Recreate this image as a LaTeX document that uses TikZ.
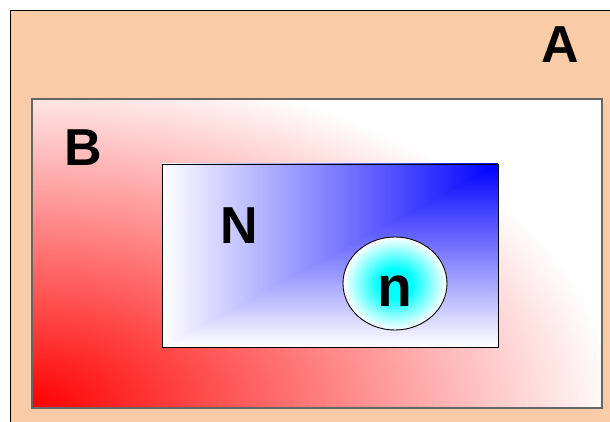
\documentclass[tikz,border=0pt]{standalone}
\usepackage{fontspec}
\setmainfont{Liberation Sans}
\definecolor{peach}{RGB}{249,204,167}
\pgfdeclareradialshading{bshade}{\pgfpoint{0bp}{0bp}}{color(0bp)=(red); color(25bp)=(white); color(50bp)=(white)}
\pgfdeclareradialshading{nshade}{\pgfpoint{0bp}{0bp}}{color(0bp)=(cyan); color(8bp)=(cyan); color(25bp)=(white); color(50bp)=(white)}
\tikzset{
  lbl/.style={anchor=base, inner sep=0pt, font=\bfseries\fontsize{52}{52}\selectfont},
  lbls/.style={anchor=base, inner sep=0pt, font=\bfseries\fontsize{57}{57}\selectfont}
}
\begin{document}
\begin{tikzpicture}[x=1pt,y=-1pt]
\useasboundingbox (0,0) rectangle (610,422);
\clip (0,0) rectangle (610,422);
% A
\draw[fill=peach, draw=black, line width=1pt] (10.5,10.5) rectangle (640,450);
% B
\fill[white] (32,99) rectangle (602,408);
\begin{scope}
  \clip (32,99) rectangle (602,408);
  \shade[shading=bshade] (32,408) ellipse [x radius=585, y radius=345];
\end{scope}
\draw[draw=black!60, line width=1.3pt] (32,99) rectangle (602,408);
% N
\shade[left color=white, right color=blue] (162,164) rectangle (498,347);
\begin{scope}
  \clip (162,347) -- (498,347) -- (498,164) -- cycle;
  \shade[top color=blue, bottom color=white] (162,164) rectangle (498,347);
\end{scope}
\draw[draw=black, line width=0.9pt] (162,164) rectangle (498,347);
% n
\shade[shading=nshade] (395,283.5) ellipse [x radius=52, y radius=46.5];
\draw[draw=black, line width=0.9pt] (395,283.5) ellipse [x radius=52, y radius=46.5];
% labels
\node[lbl] (A) at (560,63) {A};
\node[lbl] (B) at (83.5,166) {B};
\node[lbl] (N) at (239,243) {N};
\node[lbls] (n) at (394.5,306) {n};
\end{tikzpicture}
\end{document}
